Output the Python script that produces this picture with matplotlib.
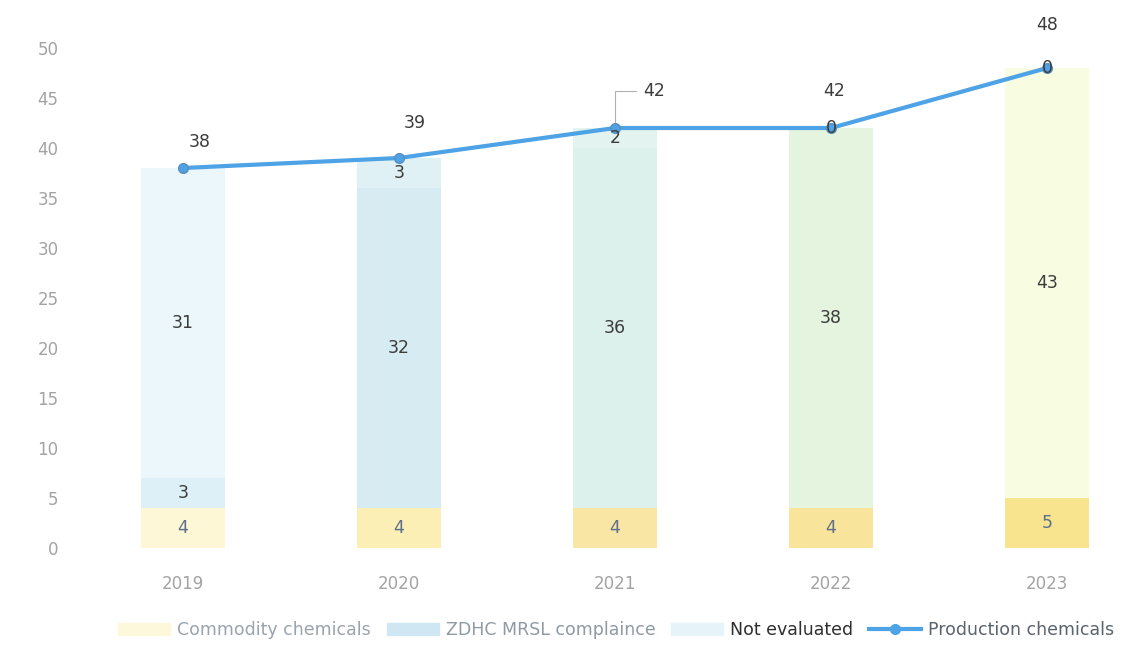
import matplotlib.pyplot as plt
from matplotlib.lines import Line2D
from matplotlib.patches import Patch

years = ['2019', '2020', '2021', '2022', '2023']
commodity = [4, 4, 4, 4, 5]
zdhc = [3, 32, 36, 38, 43]
not_evaluated = [31, 3, 2, 0, 0]
production = [38, 39, 42, 42, 48]

# scanned colours drift from bar to bar
commodity_colors = ['#fdf7d6', '#fbefb6', '#f9e6a4', '#f8e49a', '#f8e48f']
zdhc_colors = ['#ddf0f8', '#d6ebf2', '#dcf1ec', '#e4f4df', '#f8fde2']
noteval_colors = ['#ecf7fc', '#e0f1f6', '#e2f3f0', '#eaf6e6', '#f8fde4']
line_color = '#4da3e6'

fig = plt.figure(figsize=(11.37, 6.52), dpi=100)
ax = fig.add_axes([0.066, 0.152, 0.934, 0.805])

x = list(range(len(years)))
w = 0.39
b1 = ax.bar(x, commodity, w, color=commodity_colors)
bottom2 = [c for c in commodity]
b2 = ax.bar(x, zdhc, w, bottom=bottom2, color=zdhc_colors)
bottom3 = [c + z for c, z in zip(commodity, zdhc)]
b3 = ax.bar(x, not_evaluated, w, bottom=bottom3, color=noteval_colors)

ax.plot(x, production, color=line_color, lw=3, marker='o', ms=7,
        markerfacecolor=line_color, markeredgecolor='#5b8fb8', zorder=4)

for bars, vals, col in [(b1, commodity, '#5d6f8c'), (b2, zdhc, '#3c3c3c'),
                        (b3, not_evaluated, '#3c3c3c')]:
    texts = ax.bar_label(bars, labels=[str(v) for v in vals], label_type='center',
                         fontsize=12.5, color=col)
    for t in texts:
        t.set_zorder(6)

offsets = [(12, 19), (11, 25), (20, 27), (2, 27), (0, 31)]
for xi, v, off in zip(x, production, offsets):
    if xi == 2:
        ax.annotate(str(v), (xi, v), xytext=off, textcoords='offset points',
                    ha='left', va='center', fontsize=12.5, color='#3c3c3c',
                    arrowprops=dict(arrowstyle='-', color='#b0b0b0', lw=0.8,
                                    shrinkA=3, shrinkB=4,
                                    connectionstyle='angle,angleA=0,angleB=90'))
    else:
        ax.annotate(str(v), (xi, v), xytext=off, textcoords='offset points',
                    ha='center', va='center', fontsize=12.5, color='#3c3c3c')

ax.set_xlim(-0.5, 4.417)
ax.set_ylim(-0.5, 52)
ax.set_yticks(range(0, 51, 5))
ax.set_xticks(x)
ax.set_xticklabels(years)
ax.tick_params(axis='both', length=0, labelsize=12, labelcolor='#a3a3a3')
ax.tick_params(axis='y', pad=12)
ax.tick_params(axis='x', pad=16)
for s in ax.spines.values():
    s.set_visible(False)

handles = [Patch(color='#fdf8dc'), Patch(color='#cfe7f2'), Patch(color='#e6f3f9'),
           Line2D([], [], color=line_color, lw=3, marker='o', ms=7)]
names = ['Commodity chemicals', 'ZDHC MRSL complaince', 'Not evaluated', 'Production chemicals']
leg = fig.legend(handles, names, loc='center', bbox_to_anchor=(0.542, 0.033), ncol=4,
                 frameon=False, fontsize=12.5, handlelength=3.0, columnspacing=0.9,
                 handletextpad=0.4)
for t, c in zip(leg.get_texts(), ['#9aa4ad', '#8f9aa3', '#2e2e2e', '#5a6470']):
    t.set_color(c)

fig.savefig('out.png', dpi=100)
